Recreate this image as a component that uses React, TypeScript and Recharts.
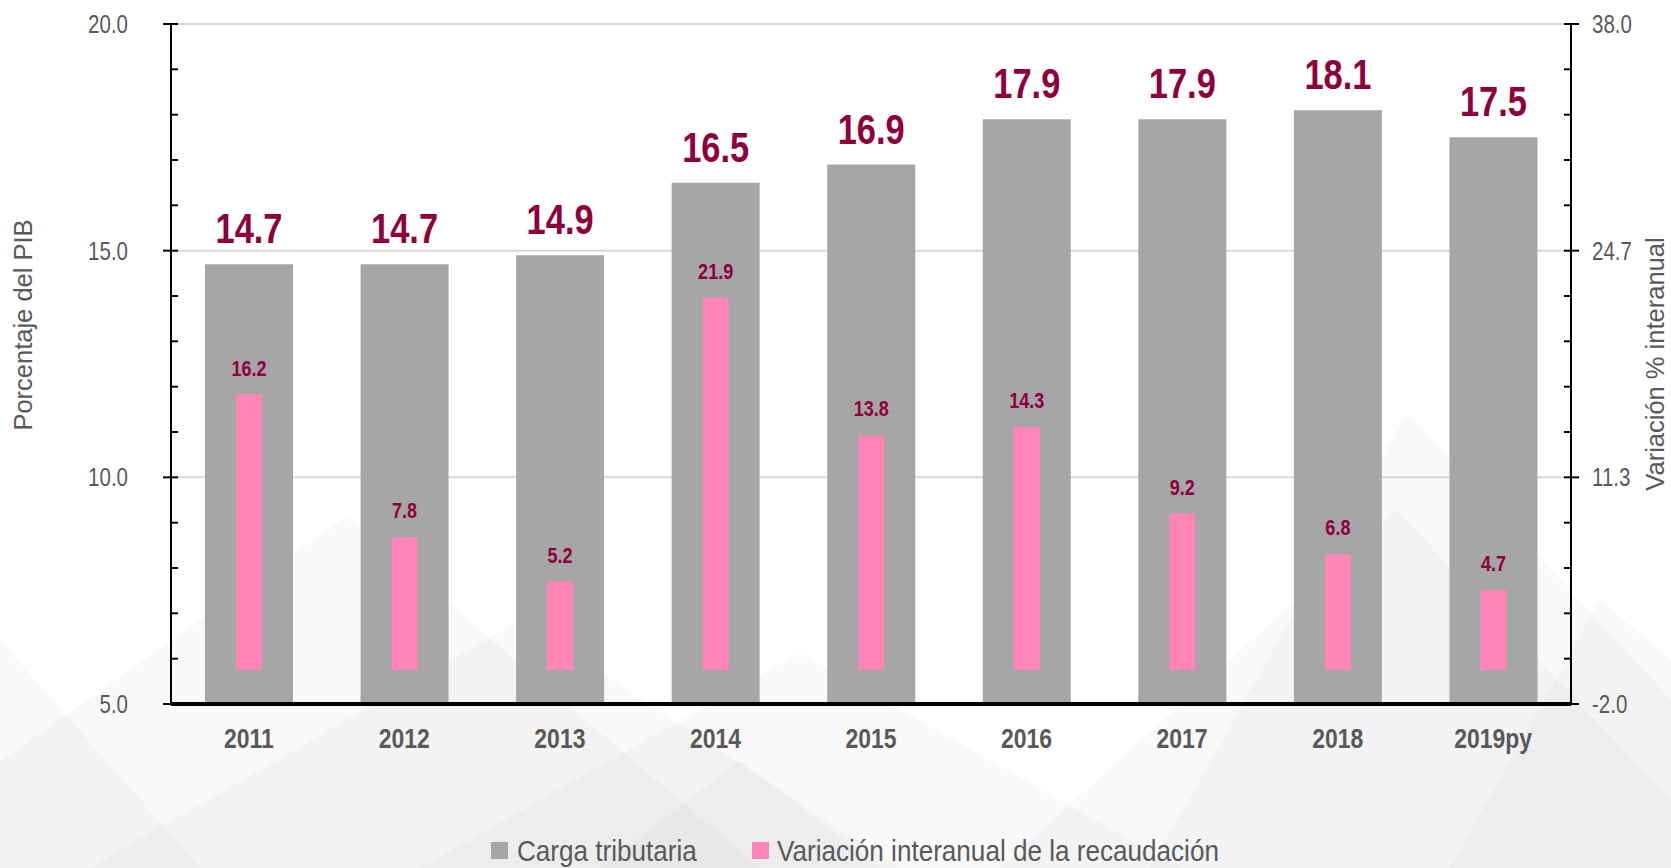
import React from "react";
import {
  ComposedChart,
  Bar,
  XAxis,
  YAxis,
  CartesianGrid,
  LabelList,
  Legend,
} from "recharts";

const YEARS = ["2011", "2012", "2013", "2014", "2015", "2016", "2017", "2018", "2019py"];
const CARGA = [14.7, 14.7, 14.9, 16.5, 16.9, 17.9, 17.9, 18.1, 17.5];
const VARIACION = [16.2, 7.8, 5.2, 21.9, 13.8, 14.3, 9.2, 6.8, 4.7];

const LEFT_MAJOR = [5, 10, 15, 20];
const RIGHT_MAJOR = [-2, 34 / 3, 74 / 3, 38];

const FONT = "'Liberation Sans', Arial, sans-serif";
const SQUEEZE = 0.82; // fake "Arial Narrow"
const GREY = "#A6A6A6";
const PINK = "#FF85B7";
const WINE = "#8E003B";
const TEXT = "#595959";

const W = 1671;
const H = 868;
const AXIS_L = 171;
const AXIS_R = 1571;
const AXIS_B = 704;

// minor ticks: 5 steps between majors
const withMinor = (majors: number[]) => {
  const out: number[] = [];
  majors.forEach((m, i) => {
    out.push(m);
    const next = majors[i + 1];
    if (next === undefined) return;
    for (let k = 1; k < 5; k++) out.push(m + ((next - m) * k) / 5);
  });
  return out;
};

const data = YEARS.map((year, i) => ({
  year,
  carga: CARGA[i],
  variacion: VARIACION[i],
}));

const isMajor = (v: number, majors: number[]) =>
  majors.some((m) => Math.abs(m - v) < 1e-6);

const Narrow = ({ x, y, anchor = "middle", size, bold = false, fill = TEXT, squeeze = SQUEEZE, children }: any) => (
  <text
    transform={`translate(${x},${y}) scale(${squeeze},1)`}
    textAnchor={anchor}
    fontSize={size}
    fontWeight={bold ? "bold" : "normal"}
    fontFamily={FONT}
    fill={fill}
  >
    {children}
  </text>
);

const LeftTick = (props: any) => {
  const { y, payload } = props;
  const major = isMajor(payload.value, LEFT_MAJOR);
  return (
    <g>
      <line x1={major ? AXIS_L - 8 : AXIS_L} x2={AXIS_L + 7} y1={y} y2={y} stroke="#000" strokeWidth={2} />
      {major && (
        <Narrow x={AXIS_L - 43} y={y + 9} anchor="end" size={25}>
          {payload.value.toFixed(1)}
        </Narrow>
      )}
    </g>
  );
};

const RightTick = (props: any) => {
  const { y, payload } = props;
  const major = isMajor(payload.value, RIGHT_MAJOR);
  return (
    <g>
      <line x1={AXIS_R - 7} x2={major ? AXIS_R + 8 : AXIS_R} y1={y} y2={y} stroke="#000" strokeWidth={2} />
      {major && (
        <Narrow x={AXIS_R + 21} y={y + 9} anchor="start" size={25}>
          {payload.value.toFixed(1)}
        </Narrow>
      )}
    </g>
  );
};

const YearTick = (props: any) => {
  const { x, payload } = props;
  return (
    <Narrow x={x} y={AXIS_B + 44} size={28} bold>
      {payload.value}
    </Narrow>
  );
};

const BigLabel = (p: any) => (
  <Narrow x={p.x + p.width / 2} y={p.y - 21} size={42} bold fill={WINE}>
    {Number(p.value).toFixed(1)}
  </Narrow>
);

const SmallLabel = (p: any) => (
  <Narrow x={p.x + p.width / 2} y={p.y - 19} size={22} bold fill={WINE}>
    {Number(p.value).toFixed(1)}
  </Narrow>
);

const LeftTitle = () => (
  <text x={23} y={325} transform="rotate(-90 23 325)" dy="0.36em" textAnchor="middle" fill={TEXT} fontSize={25.5} fontFamily={FONT}>
    Porcentaje del PIB
  </text>
);

const RightTitle = () => (
  <text x={1655} y={364} transform="rotate(-90 1655 364)" dy="0.36em" textAnchor="middle" fill={TEXT} fontSize={25.5} fontFamily={FONT}>
    Variación % interanual
  </text>
);

const LegendBox = () => (
  <svg width={W} height={40} style={{ display: "block" }}>
    <rect x={491} y={12} width={17} height={17} fill={GREY} />
    <Narrow x={517} y={31} anchor="start" size={30} squeeze={0.87}>
      Carga tributaria
    </Narrow>
    <rect x={752} y={12} width={17} height={17} fill={PINK} />
    <Narrow x={777} y={31} anchor="start" size={30} squeeze={0.87}>
      Variación interanual de la recaudación
    </Narrow>
  </svg>
);

// faint watermark behind the chart
const Watermark = () => (
  <svg width={W} height={H} style={{ position: "absolute", left: 0, top: 0 }}>
    <g fill="#8c8c8c" fillOpacity={0.055}>
      <polygon points="-150,868 346,517 760,868" />
      <polygon points="90,868 520,620 900,868" />
      <polygon points="420,868 800,653 1180,868" />
      <polygon points="1000,868 1396,510 1671,800 1671,868" />
      <polygon points="1150,868 1407,413 1671,700 1671,868" />
      <polygon points="0,640 200,868 0,868" />
      <polygon points="600,868 740,760 880,868" />
      <polygon points="1450,868 1600,600 1671,660 1671,868" />
    </g>
  </svg>
);

export default function App() {
  return (
    <div style={{ position: "absolute", left: 0, top: 0, width: W, height: H, background: "#fff" }}>
      <Watermark />
      <div style={{ position: "absolute", left: 0, top: 0 }}>
        <ComposedChart width={W} height={H} data={data} margin={{ top: 24, right: 0, bottom: 0, left: 0 }}>
          <CartesianGrid
            vertical={false}
            stroke="#D9D9D9"
            strokeWidth={2}
            horizontalCoordinatesGenerator={() =>
              LEFT_MAJOR.map((v) => AXIS_B - ((v - 5) / 15) * (AXIS_B - 24))
            }
          />
          <XAxis xAxisId="main" dataKey="year" height={164} axisLine={{ stroke: "#000", strokeWidth: 4 }} tickLine={false} tick={<YearTick />} interval={0} />
          <XAxis xAxisId="overlay" dataKey="year" hide />
          <YAxis
            yAxisId="left"
            width={AXIS_L}
            domain={[5, 20]}
            ticks={withMinor(LEFT_MAJOR)}
            interval={0}
            allowDataOverflow
            axisLine={{ stroke: "#000", strokeWidth: 2 }}
            tickLine={false}
            tick={<LeftTick />}
            label={{ content: <LeftTitle /> }}
          />
          <YAxis
            yAxisId="right"
            orientation="right"
            width={W - AXIS_R}
            domain={[-2, 38]}
            ticks={withMinor(RIGHT_MAJOR)}
            interval={0}
            allowDataOverflow
            axisLine={{ stroke: "#000", strokeWidth: 2 }}
            tickLine={false}
            tick={<RightTick />}
            label={{ content: <RightTitle /> }}
          />
          <Legend
            layout="horizontal"
            verticalAlign="middle"
            align="center"
            wrapperStyle={{ top: 830, left: 0, width: W }}
            content={<LegendBox />}
          />
          <Bar xAxisId="main" yAxisId="left" dataKey="carga" name="Carga tributaria" fill={GREY} barSize={88} isAnimationActive={false}>
            <LabelList dataKey="carga" content={<BigLabel />} />
          </Bar>
          <Bar xAxisId="overlay" yAxisId="right" dataKey="variacion" name="Variación interanual de la recaudación" fill={PINK} barSize={26} isAnimationActive={false}>
            <LabelList dataKey="variacion" content={<SmallLabel />} />
          </Bar>
        </ComposedChart>
      </div>
    </div>
  );
}
